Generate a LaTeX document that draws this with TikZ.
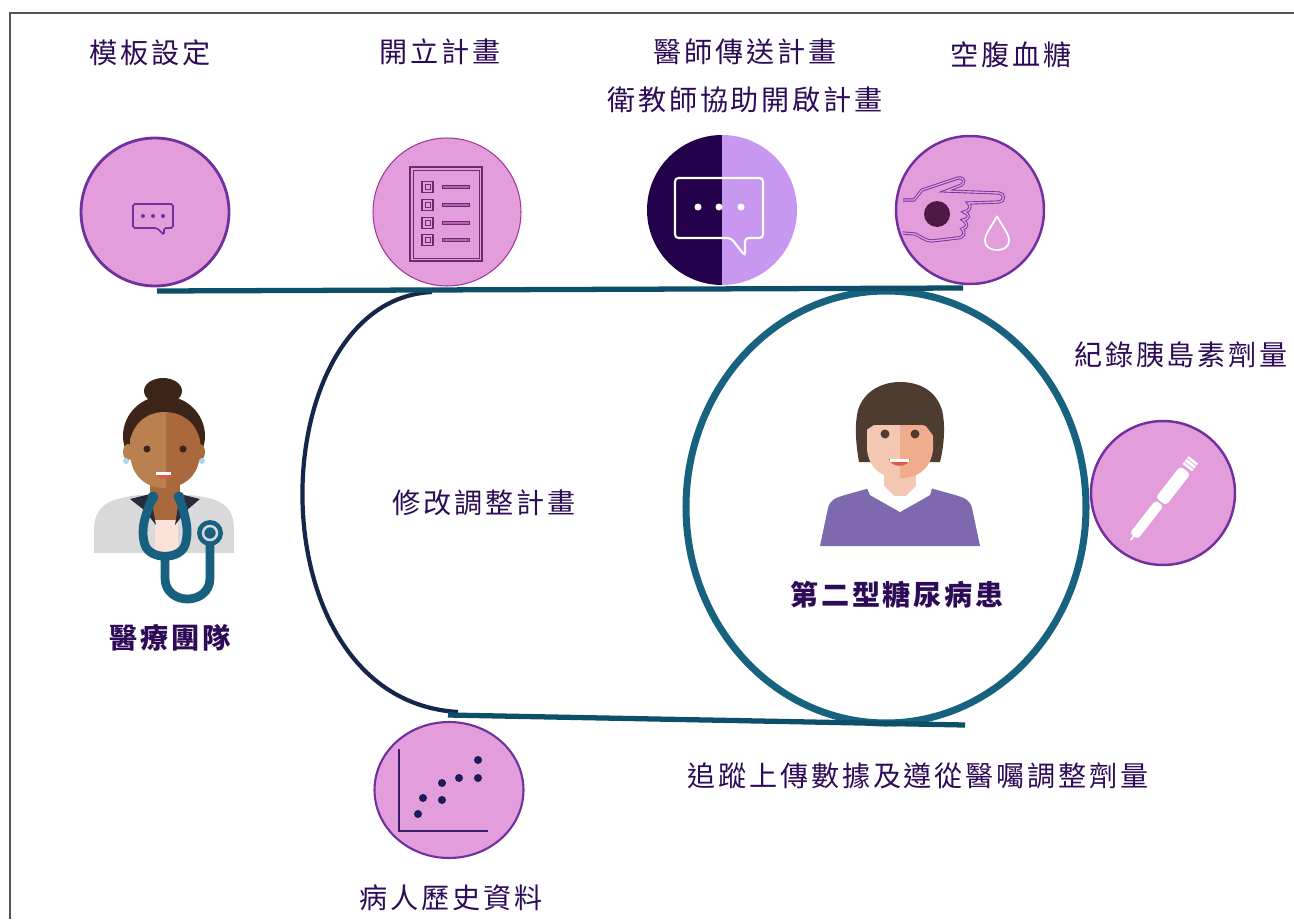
\documentclass[tikz,border=0pt]{standalone}
\usepackage{xcolor}
\usepackage{fontspec}
\usepackage{tikz}
\usetikzlibrary{shapes.geometric}

\newfontfamily\tc[LetterSpace=10]{Noto Sans CJK TC}

\definecolor{pinkfill}{HTML}{E29DDA}
\definecolor{ringpurple}{HTML}{7030A0}
\definecolor{listring}{HTML}{A0389C}
\definecolor{listink}{HTML}{6E2A6E}
\definecolor{listmid}{HTML}{B860B0}
\definecolor{chatdark}{HTML}{22004A}
\definecolor{chatlight}{HTML}{C898F0}
\definecolor{handdot}{HTML}{4E1A45}
\definecolor{trackteal}{HTML}{0D4F69}
\definecolor{ringteal}{HTML}{16627F}
\definecolor{arcnavy}{HTML}{14264A}
\definecolor{labelpurple}{HTML}{2D0B57}
\definecolor{dotnavy}{HTML}{1C1B5A}
\definecolor{axispurple}{HTML}{3A1C6E}
\definecolor{framegrey}{HTML}{555555}
% doctor
\definecolor{hairdark}{HTML}{3C2418}
\definecolor{skinlight}{HTML}{B98150}
\definecolor{skindark}{HTML}{A9693D}
\definecolor{coatgrey}{HTML}{D9D9D9}
\definecolor{lapel}{HTML}{2A2A3A}
\definecolor{shirtpink}{HTML}{FBE3DA}
\definecolor{steth}{HTML}{18607F}
\definecolor{earring}{HTML}{A6D8F0}
\definecolor{mouthred}{HTML}{E5574A}
% patient
\definecolor{pathair}{HTML}{4E3C30}
\definecolor{patskin}{HTML}{F4C7B2}
\definecolor{patskindark}{HTML}{EFAD8E}
\definecolor{sweater}{HTML}{7F69AE}

\tikzset{
  caption/.style={font=\tc\fontsize{16}{19}\selectfont, text=labelpurple, inner sep=0pt},
  boldcaption/.style={caption, font=\tc\bfseries\fontsize{16}{19}\selectfont},
  iconball/.style={circle, fill=pinkfill, draw=ringpurple, line width=1.6pt,
    minimum size=2.96cm, inner sep=0pt},
  track/.style={draw=trackteal, line width=3pt},
}

\begin{document}
\begin{tikzpicture}[x=0.02cm, y=-0.02cm]
  \useasboundingbox (0,0) rectangle (1294,919);
  \draw[framegrey, line width=1.2pt] (10,919) -- (10,13) -- (1294,13);

  % captions
  \node[caption] (tplText)  at (150,53)  {模板設定};
  \node[caption] (openText) at (440,52)  {開立計畫};
  \node[caption] (sendText) at (745,52)  {醫師傳送計畫};
  \node[caption] (helpText) at (745,100) {衛教師協助開啟計畫};
  \node[caption] (fastText) at (1011,55) {空腹血糖};
  \node[caption] (doseText) at (1181,355) {紀錄胰島素劑量};
  \node[caption] (editText) at (484,503) {修改調整計畫};
  \node[boldcaption] (teamText) at (170,638) {醫療團隊};
  \node[boldcaption] (patText)  at (897,595) {第二型糖尿病患};
  \node[caption] (trackText) at (918,776) {追蹤上傳數據及遵從醫囑調整劑量};
  \node[caption] (histText) at (451,898) {病人歷史資料};

  % the two rails and the loops
  \coordinate (topL) at (157,291);
  \coordinate (topR) at (963,288);
  \coordinate (botL) at (448,715);
  \coordinate (botR) at (965,725);
  \coordinate (arcT) at (432,292);
  \coordinate (arcB) at (458,712);
  \draw[arcnavy, line width=2.4pt] (arcT) .. controls (260,300) and (250,700) .. (arcB);
  \draw[ringteal, line width=4pt] (886,507) ellipse (200 and 216);
  \draw[track] (topL) -- (topR);
  \draw[track] (botL) -- (botR);

  % icon circles
  \node[iconball] (tpl) at (155,212) {};
  \node[iconball, draw=listring, line width=0.6pt] (open) at (447,212) {};
  \node[circle, minimum size=3cm, inner sep=0pt] (send) at (722,210) {};
  \node[iconball, line width=1.4pt] (fast) at (970,210) {};
  \node[iconball, line width=1.4pt, minimum size=2.88cm] (dose) at (1163,493) {};
  \node[ellipse, fill=pinkfill, draw=ringpurple, line width=1.2pt,
    minimum width=2.98cm, minimum height=2.72cm, inner sep=0pt] (hist) at (449,790) {};

  % small chat bubble
  \draw[ringpurple, line width=0.9pt, rounded corners=1] (157,228) -- (133,228) -- (133,204)
    -- (173,204) -- (173,228) -- (164,228) -- (164,235) -- cycle;
  \foreach \x in {143,153,163}
    \fill[ringpurple] (\x,216) circle (2);

  % check list
  \draw[listink, line width=1pt] (410,167) rectangle (482,261);
  \draw[listink, line width=0.5pt] (413,170) rectangle (479,258);
  \foreach \y in {187,205,223,240} {
    \draw[listink, line width=0.8pt] (422,\y-5.5) rectangle (433,\y+5.5);
    \draw[listink, line width=0.5pt] (425,\y-2.5) rectangle (430,\y+2.5);
    \filldraw[fill=listmid, draw=listink, line width=0.5pt] (442,\y-1.5) rectangle (469,\y+1.5);
  }

  % split circle with the large bubble
  \begin{scope}
    \clip (send.center) circle (75);
    \fill[chatdark] (640,130) rectangle (722,290);
    \fill[chatlight] (722,130) rectangle (800,290);
  \end{scope}
  \draw[white, line width=1.2pt, rounded corners=2] (731,238) -- (675,238) -- (675,178)
    -- (763,178) -- (763,238) -- (745,238) -- (745,256) -- cycle;
  \foreach \x in {698,719,741}
    \fill[white] (\x,207) circle (3.5);

  % finger and drop
  \fill[handdot] (937,214) circle (13);
  \draw[ringpurple, line width=0.5pt, double=pinkfill, double distance=0.8pt]
    (903,200) -- (914,200) -- (922,190) -- (958,178)
    .. controls (965,177) and (966,184) .. (959,186) -- (946,191) -- (999,193)
    .. controls (1005,193) and (1005,202) .. (999,202) -- (968,203)
    .. controls (972,206) and (970,211) .. (964,212)
    .. controls (970,214) and (970,219) .. (963,220)
    .. controls (968,223) and (968,228) .. (962,229)
    .. controls (966,232) and (964,238) .. (957,238) -- (932,241)
    .. controls (925,241) and (920,236) .. (915,234) -- (903,233);
  \draw[white, line width=1pt] (997,216) .. controls (992,226) and (985,234) .. (985,240)
    .. controls (985,247) and (990,250) .. (997,250)
    .. controls (1004,250) and (1009,247) .. (1009,240)
    .. controls (1009,234) and (1002,226) .. (997,216);

  % insulin pen
  \begin{scope}[shift={(1162,500)}, rotate=52]
    \fill[white, rounded corners=2] (-46,-5) rectangle (-4,5);
    \fill[white, rounded corners=2] (-2,-6.5) rectangle (38,6.5);
    \fill[white] (41,-6) rectangle (51,6);
    \draw[pinkfill, line width=0.4pt] (44,-6) -- (44,6) (48,-6) -- (48,6);
    \draw[white, line width=1pt] (-46,0) -- (-51,0);
  \end{scope}

  % scatter chart
  \draw[axispurple, line width=1.3pt] (399,749) -- (399,831) -- (488,831);
  \foreach \x/\y in {418/814, 423/798, 442/800, 442/783, 459/778, 478/778, 478/760}
    \fill[dotnavy] (\x,\y) circle (4);

  % medical team figure
  \fill[hairdark] (163,391) ellipse (19 and 13);
  \fill[hairdark] (164,436) ellipse (41 and 40);
  \fill[skinlight] (128,452) ellipse (5 and 8);
  \fill[skindark] (200,452) ellipse (5 and 8);
  \fill[earring] (126,461) circle (3);
  \fill[earring] (202,461) circle (3);
  \fill[skindark] (150,478) rectangle (180,510);
  \begin{scope}
    \clip (130,440) .. controls (135,420) and (150,412) .. (164,412)
      .. controls (180,412) and (195,420) .. (200,440) -- (200,455)
      .. controls (198,478) and (182,488) .. (164,488)
      .. controls (148,488) and (132,478) .. (130,455) -- cycle;
    \fill[skinlight] (125,405) rectangle (166,490);
    \fill[skindark] (166,405) rectangle (205,490);
  \end{scope}
  \fill[hairdark] (147,449) circle (3.5);
  \fill[hairdark] (183,449) circle (3.5);
  \fill[mouthred] (155,472) -- (172,472) .. controls (170,481) and (157,481) .. cycle;
  \fill[white] (156,472) rectangle (171,475);
  \fill[coatgrey] (94,553) -- (94,530) .. controls (94,505) and (110,498) .. (140,495)
    -- (190,495) .. controls (220,498) and (234,505) .. (234,530) -- (234,553) -- cycle;
  \fill[skindark] (153,495) rectangle (178,520);
  \fill[shirtpink] (155,520) rectangle (178,553);
  \fill[lapel] (130,499) -- (150,494) -- (156,525) -- (144,510) -- cycle;
  \fill[lapel] (200,499) -- (180,494) -- (175,525) -- (187,510) -- cycle;
  \draw[steth, line width=5pt, line cap=round]
    (153,497) .. controls (145,515) and (140,530) .. (145,545)
    .. controls (150,560) and (180,560) .. (185,545)
    .. controls (190,530) and (185,515) .. (179,497);
  \draw[steth, line width=5pt] (165,555) -- (165,578)
    .. controls (165,606) and (210,606) .. (210,578) -- (210,540);
  \fill[steth] (153,497) circle (5.5);
  \fill[steth] (179,497) circle (5.5);
  \fill[steth] (210,533) circle (13);
  \draw[coatgrey, line width=1.4pt] (210,533) circle (7);

  % patient figure
  \fill[pathair] (859,462) .. controls (855,440) and (855,422) .. (858,410)
    .. controls (864,391) and (882,382) .. (900,382)
    .. controls (920,382) and (936,391) .. (942,410)
    .. controls (945,422) and (945,442) .. (940,462) -- cycle;
  \fill[patskin] (884,470) rectangle (916,496);
  \begin{scope}
    \clip (867,425) -- (867,450) .. controls (870,472) and (885,478) .. (900,478)
      .. controls (915,478) and (930,472) .. (933,450) -- (933,425) -- cycle;
    \fill[patskin] (860,420) rectangle (900,480);
    \fill[patskindark] (900,420) rectangle (940,480);
  \end{scope}
  \fill[pathair] (863,432) -- (868,405) -- (932,405) -- (938,442) -- (926,426)
    -- (905,419) -- (880,421) -- cycle;
  \fill[pathair] (885,434) circle (4.5);
  \fill[pathair] (915,434) circle (4.5);
  \fill[mouthred] (889,459) -- (910,459) .. controls (908,468) and (891,468) .. cycle;
  \fill[white] (890,459) rectangle (909,462);
  \fill[sweater] (820,546) -- (828,508) .. controls (830,500) and (835,498) .. (845,495)
    -- (870,488) -- (900,512) -- (930,488) -- (955,495)
    .. controls (965,498) and (970,500) .. (972,508) -- (980,546) -- cycle;
  \fill[white] (867,488) -- (883,485) -- (900,502) -- (917,485) -- (932,488)
    -- (930,495) -- (900,512) -- (870,495) -- cycle;
\end{tikzpicture}
\end{document}
